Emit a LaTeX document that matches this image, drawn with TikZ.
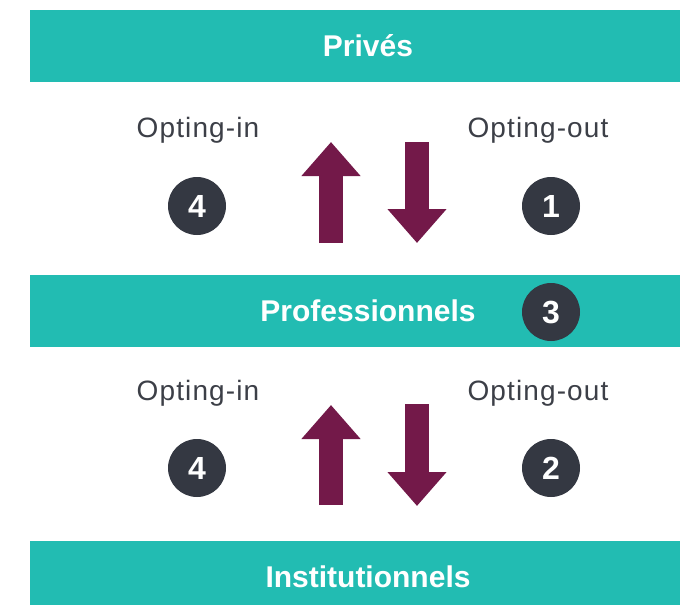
\documentclass[tikz,border=0pt]{standalone}
\usepackage{fontspec}
\setmainfont{Liberation Sans}
\usetikzlibrary{arrows.meta}

\definecolor{teal}{HTML}{22BCB2}
\definecolor{disc}{HTML}{343842}
\definecolor{plum}{HTML}{731949}
\definecolor{txt}{HTML}{3C3F47}

\begin{document}
\begin{tikzpicture}[x=1pt, y=-1pt]

      \tikzset{level/.style={fill=teal, minimum width=676pt, minimum height=72pt, inner sep=0pt,
               text=white, font=\bfseries\fontsize{30}{36}\selectfont, text height=21.5pt, text depth=0pt}}
      \tikzset{badge/.style={circle, fill=disc, minimum size=58pt, inner sep=0pt,
               text=white, font=\bfseries\fontsize{32}{38}\selectfont, text height=23pt, text depth=0pt}}
      \tikzset{opt/.style={anchor=base, text=txt, font=\fontsize{28}{32}\selectfont\addfontfeature{LetterSpace=4}}}
      \tikzset{flow/.style={draw=plum, line width=24pt, -{Triangle[length=34pt, width=57pt, fill=plum]}}}

      \clip (0,0) rectangle (680,605);
%% Levels
      	\node[level] (prive) at (368,46) {Privés};
      	\node[level] (pro) at (368,311) {Professionnels};
      	\node[level] (inst) at (368,577) {Institutionnels};
%% Labels
      	\node[opt] (in1) at (198,137) {Opting-in};
      	\node[opt] (out1) at (538,137) {Opting-out};
      	\node[opt] (in2) at (198,400) {Opting-in};
      	\node[opt] (out2) at (538,400) {Opting-out};
%% Badges
      	\node[badge] (n4a) at (197,206) {4};
      	\node[badge] (n1) at (551,206) {1};
      	\node[badge] (n3) at (551,312) {3};
      	\node[badge] (n4b) at (197,468) {4};
      	\node[badge] (n2) at (551,468) {2};
%Arrows
		\coordinate (upa0) at (331,243);
		\coordinate (upa1) at (331,142);
		\coordinate (dna0) at (417,142);
		\coordinate (dna1) at (417,243);
		\coordinate (upb0) at (331,505);
		\coordinate (upb1) at (331,405);
		\coordinate (dnb0) at (417,404);
		\coordinate (dnb1) at (417,506);
		\draw[flow] (upa0) -- (upa1);
		\draw[flow] (dna0) -- (dna1);
		\draw[flow] (upb0) -- (upb1);
		\draw[flow] (dnb0) -- (dnb1);

	\end{tikzpicture}
\end{document}
